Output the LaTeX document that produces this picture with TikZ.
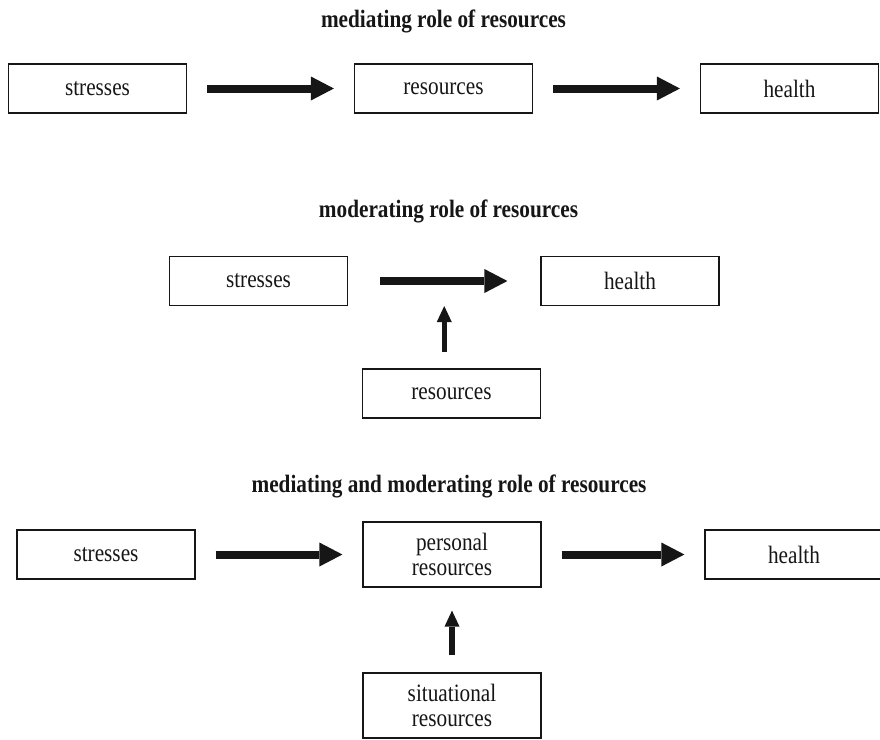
\documentclass[tikz,border=0pt]{standalone}
\usepackage{fontspec}
\setmainfont[FakeStretch=0.85]{Liberation Serif}
\usetikzlibrary{arrows.meta}
\definecolor{ink}{RGB}{22,22,22}
\tikzset{
  box/.style={draw=ink, line width=1.2pt, minimum width=178pt, minimum height=49pt,
    inner sep=0pt, align=center, text=ink, font=\fontsize{25}{25}\selectfont},
  tallbox/.style={box, minimum height=65pt},
  heading/.style={anchor=base, text=ink, font=\fontsize{25}{25}\selectfont\bfseries},
  fatarrow/.style={draw=ink, line width=8pt, shorten <=20pt, shorten >=20pt,
    -{Triangle[length=23pt,width=24pt,line width=0pt]}},
  thinarrow/.style={draw=ink, line width=5.5pt,
    -{Triangle[length=16pt,width=15pt,line width=0pt]}}
}
\begin{document}
\begin{tikzpicture}[x=1pt,y=-1pt]
\useasboundingbox (0,0) rectangle (880,739);

% mediating role
\node[heading] (t1) at (443.5,27) {mediating role of resources};
\node[box] (s1) at (97.5,88.5) {stresses};
\node[box] (r1) at (443.5,88.5) {resources};
\node[box] (h1) at (789.5,88.5) {health};
\draw[fatarrow] (s1) -- (r1);
\draw[fatarrow] (r1) -- (h1);

% moderating role
\node[heading] (t2) at (448.5,217) {moderating role of resources};
\node[box] (s2) at (258.5,281) {stresses};
\node[box] (h2) at (630,281) {health};
\node[box] (r2) at (451.5,393.5) {resources};
\draw[fatarrow, shorten <=32pt, shorten >=33pt] (s2) -- coordinate[pos=0.5] (m2) (h2);
\draw[thinarrow, shorten <=16pt, shorten >=25pt] (r2.north -| m2) -- (m2);

% mediating and moderating role
\node[heading] (t3) at (449,492) {mediating and moderating role of resources};
\node[box] (s3) at (106,554.5) {stresses};
\node[tallbox] (p3) at (452,554.5) {personal\\resources};
\node[box] (h3) at (794,554.5) {health};
\node[tallbox] (q3) at (452,705.5) {situational\\resources};
\draw[fatarrow] (s3) -- (p3);
\draw[fatarrow] (p3) -- (h3);
\draw[thinarrow, shorten <=17pt, shorten >=23pt] (q3) -- (p3);
\end{tikzpicture}
\end{document}
